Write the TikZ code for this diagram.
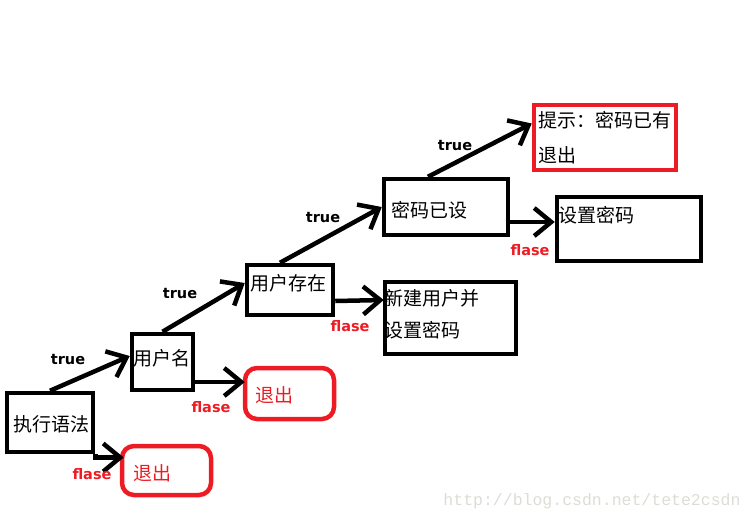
\documentclass[tikz,border=0pt]{standalone}
\usepackage{fontspec}
\setmainfont{DejaVu Sans}
\newfontfamily\cjk{Noto Sans CJK SC}
\newfontfamily\wm{Liberation Mono}
\usetikzlibrary{arrows.meta,calc}
\definecolor{pred}{RGB}{237,28,36}
\definecolor{wmgray}{RGB}{222,220,214}
\tikzset{
  box/.style={draw=black,line width=4.5pt,rectangle,inner sep=0pt},
  rbox/.style={draw=pred,line width=4.5pt,rectangle,rounded corners=12pt,inner sep=0pt},
  sbox/.style={draw=pred,line width=4.5pt,rectangle,inner sep=0pt},
  cn/.style={font=\cjk\fontsize{19}{30}\selectfont,anchor=west,inner sep=0pt,align=left},
  tl/.style={font=\bfseries\fontsize{14.5}{16}\selectfont,text=black,inner sep=0pt},
  fl/.style={font=\bfseries\fontsize{14.5}{16}\selectfont,text=pred,inner sep=0pt},
  arr/.style={draw=black,line width=4.5pt,-{Straight Barb[length=17pt,width=28pt]}},
}
\begin{document}
\begin{tikzpicture}[x=1pt,y=-1pt]
\useasboundingbox (0,0) rectangle (754,522);
% boxes
\node[box,minimum width=86pt,minimum height=59pt] (b1) at (50,422.5) {};
\node[box,minimum width=61pt,minimum height=56pt] (b2) at (162.5,362) {};
\node[rbox,minimum width=89pt,minimum height=51pt] (r1) at (289.5,393.5) {};
\node[rbox,minimum width=89pt,minimum height=49pt] (r2) at (166.5,470.5) {};
\node[box,minimum width=86pt,minimum height=50pt] (b3) at (290,290) {};
\node[box,minimum width=124pt,minimum height=56pt] (b4) at (446,207) {};
\node[box,minimum width=131pt,minimum height=72pt] (b5) at (450.5,318) {};
\node[sbox,minimum width=142pt,minimum height=65pt] (r3) at (605,137.5) {};
\node[box,minimum width=144pt,minimum height=64pt] (b6) at (629,229) {};
% texts
\node[cn] (t1) at (13,424) {执行语法};
\node[cn] (t2) at (133,358) {用户名};
\node[cn] (t3) at (255,395) {\color{pred}退出};
\node[cn] (t4) at (133,473) {\color{pred}退出};
\node[cn] (t5) at (250,283) {用户存在};
\node[cn] (t6) at (391,210) {密码已设};
\node[cn] (t7) at (384,298) {新建用户并};
\node[cn] (t8) at (384,330) {设置密码};
\node[cn] (t9) at (538,120) {提示：密码已有};
\node[cn] (t10) at (538,155) {退出};
\node[cn] (t11) at (558,215) {设置密码};
% connector end points
\coordinate (p2) at ([xshift=4pt,yshift=13pt]r2.west);
% arrows
\draw[arr] (b1.north) -- ([yshift=6pt]b2.west);
\draw[arr] (b1.south east) |- (p2);
\draw[arr] ([yshift=-20pt]b2.east) -- ([xshift=2pt,yshift=11.5pt]r1.west);
\draw[arr] (b2.north) -- ([yshift=7pt]b3.west);
\draw[arr] ([yshift=-11pt]b3.east) -- ([xshift=1pt,yshift=18pt]b5.west);
\draw[arr] ([xshift=-10pt]b3.north) -- (b4.west);
\draw[arr] ([yshift=-15pt]b4.east) -- ([yshift=7pt]b6.west);
\draw[arr] ([xshift=-18pt]b4.north) -- ([yshift=14pt]r3.west);
% labels
\node[tl] (l1) at (68,360) {true};
\node[fl] (l2) at (92,474) {flase};
\node[fl] (l3) at (211,407) {flase};
\node[tl] (l4) at (180,294) {true};
\node[fl] (l5) at (350,326) {flase};
\node[tl] (l6) at (323,218) {true};
\node[fl] (l7) at (530,250) {flase};
\node[tl] (l8) at (455,146) {true};
% watermark
\node[font=\wm\fontsize{16.5}{18}\selectfont,text=wmgray,inner sep=0pt] (wm) at (592,501) {http://blog.csdn.net/tete2csdn};
\end{tikzpicture}
\end{document}
